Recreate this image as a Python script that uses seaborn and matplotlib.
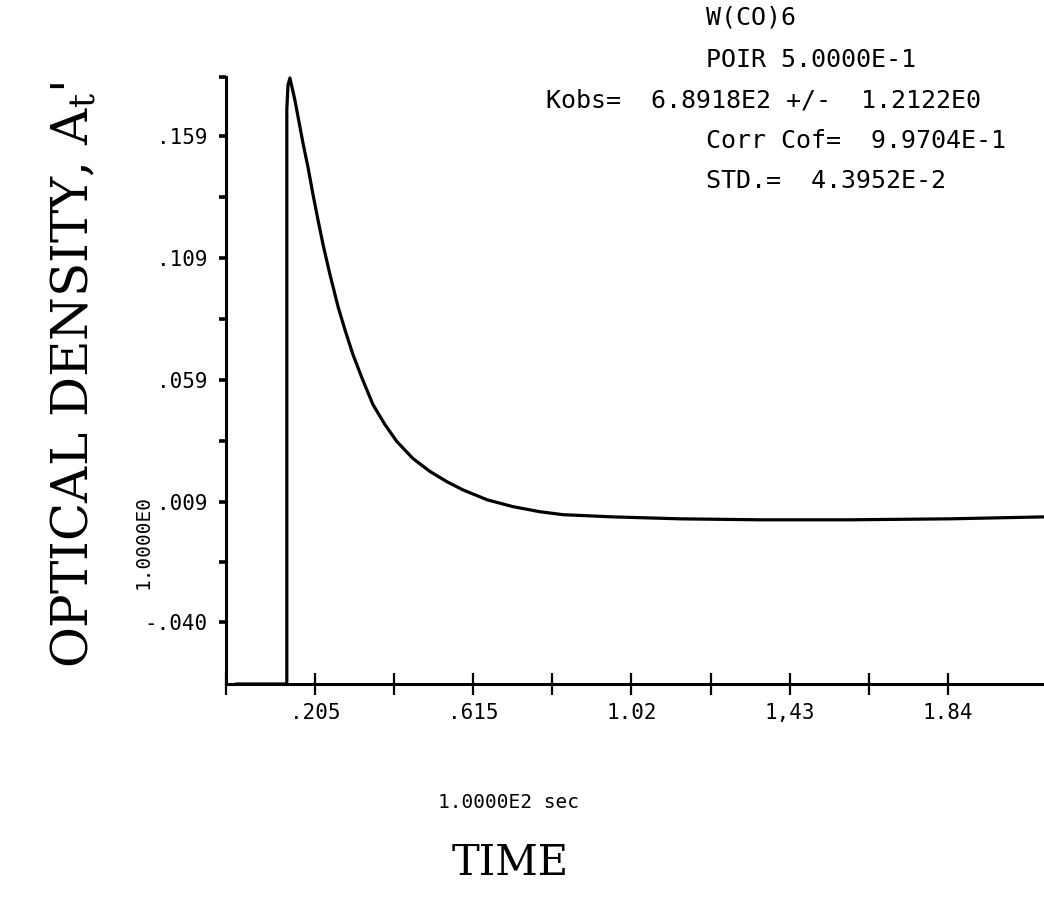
import matplotlib
matplotlib.use("Agg")
import matplotlib.pyplot as plt
import numpy as np
import pandas as pd
import seaborn as sns

# Transient absorbance trace (time in units of 1.0000E2 sec)
time = [0.000, 0.132, 0.132, 0.135, 0.140, 0.153, 0.174, 0.187, 0.200, 0.213,
        0.226, 0.244, 0.265, 0.283, 0.303, 0.327, 0.355, 0.386, 0.417, 0.459,
        0.503, 0.547, 0.588, 0.651, 0.718, 0.788, 0.848, 0.977, 1.151, 1.358,
        1.591, 1.850, 2.094]
absorbance = [-0.0655, -0.0655, 0.1700, 0.1800, 0.1829, 0.1738, 0.1561, 0.1462,
              0.1350, 0.1245, 0.1145, 0.1022, 0.0890, 0.0795, 0.0697, 0.0598,
              0.0491, 0.0409, 0.0339, 0.0269, 0.0216, 0.0174, 0.0141, 0.0100,
              0.0072, 0.0051, 0.0039, 0.0030, 0.0022, 0.0018, 0.0018, 0.0022,
              0.0030]

# Axis ticks and labels
x_major = [0.205, 0.615, 1.025, 1.435, 1.845]
x_major_labels = [".205", ".615", "1.02", "1,43", "1.84"]
x_minor = [-0.0256, 0.41, 0.82, 1.23, 1.64]
y_major = [-0.040, 0.009, 0.059, 0.109, 0.159]
y_major_labels = ["-.040", ".009", ".059", ".109", ".159"]
y_minor = [-0.0155, 0.034, 0.084, 0.134, 0.1833]

# Fit summary printed by the plotter
fit_lines = ["W(CO)6", "POIR 5.0000E-1", "Kobs=  6.8918E2 +/-  1.2122E0",
             "Corr Cof=  9.9704E-1", "STD.=  4.3952E-2"]

sns.set_theme(style="ticks")
plt.rcParams["font.family"] = ["DejaVu Sans Mono", "DejaVu Sans"]
plt.rcParams["mathtext.fontset"] = "custom"
plt.rcParams["mathtext.rm"] = "DejaVu Serif"
plt.rcParams["mathtext.it"] = "DejaVu Serif"

W, H = 1044, 913
fig = plt.figure(figsize=(W / 100, H / 100), dpi=100)
fig.patch.set_facecolor("white")


def fx(px):
    return px / W


def fy(py):
    return 1 - py / H


ax = fig.add_axes([fx(226), fy(684), fx(1044) - fx(226), fy(77) - fy(684)])
ax.set_facecolor("white")

df = pd.DataFrame({"time": time, "absorbance": absorbance})
sns.lineplot(data=df, x="time", y="absorbance", sort=False, estimator=None,
             color="black", linewidth=2.3, ax=ax, clip_on=False)

ax.set_xlim(-0.0256, 2.094)
ax.set_ylim(-0.0655, 0.1833)
sns.despine(ax=ax)
for side in ("left", "bottom"):
    ax.spines[side].set_linewidth(2.2)
    ax.spines[side].set_color("black")

ax.set_xticks(x_major)
ax.set_xticklabels(x_major_labels)
ax.set_xticks(x_minor, minor=True)
ax.set_yticks(y_major)
ax.set_yticklabels(y_major_labels)
ax.set_yticks(y_minor, minor=True)

ax.tick_params(axis="x", which="both", direction="inout", length=16, width=1.6,
               color="black", pad=6, labelsize=15, labelcolor="black")
ax.tick_params(axis="y", which="both", direction="out", length=5, width=2.6,
               color="black", pad=8, labelsize=15, labelcolor="black")
ax.set_xlabel("")
ax.set_ylabel("")

serif = ["DejaVu Serif"]
fig.text(fx(75), fy(375), "OPTICAL DENSITY, A$_\\mathrm{t}$'", rotation=90,
         ha="center", va="center", fontsize=36, family=serif, color="black")
fig.text(fx(143), fy(542), "1.0000E0", rotation=90, ha="center", va="center",
         fontsize=14, color="black")
fig.text(fx(508), fy(802), "1.0000E2 sec", ha="center", va="center",
         fontsize=14, color="black")
fig.text(fx(510), fy(863), "TIME", ha="center", va="center", fontsize=30,
         family=serif, color="black")

starts = [706, 706, 546, 706, 706]
rows = [18, 60, 101, 141, 181]
for line, x0, y0 in zip(fit_lines, starts, rows):
    fig.text(fx(x0), fy(y0), line, ha="left", va="center", fontsize=18,
             color="black")

fig.savefig("out.png", dpi=100, facecolor="white")
